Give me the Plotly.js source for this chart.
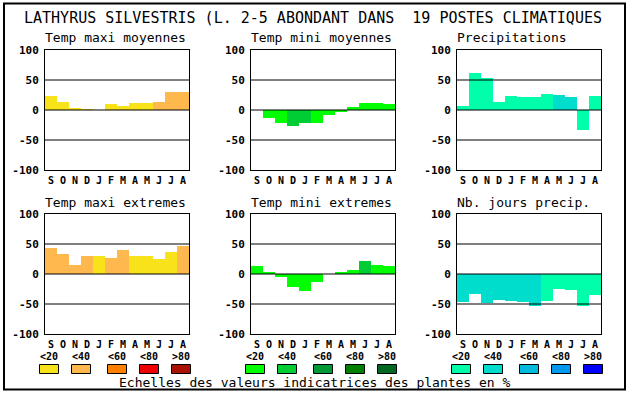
<!DOCTYPE html>
<html><head><meta charset="utf-8">
<script src="https://cdn.plot.ly/plotly-3.0.1.min.js"></script>
<style>html,body{margin:0;padding:0;background:#fff}</style>
</head><body><div id="chart" style="width:630px;height:394px"></div>
<script>
// ---- data ----
const mainTitle = 'LATHYRUS SILVESTRIS (L. 2-5 ABONDANT DANS  19 POSTES CLIMATIQUES';
const months = ['S','O','N','D','J','F','M','A','M','J','J','A'];
const panelTitles = ['Temp maxi moyennes','Temp mini moyennes','Precipitations',
                     'Temp maxi extremes','Temp mini extremes','Nb. jours precip.'];
const yTickVals = [-100,-50,0,50,100];
const yTickText = ['-100','-50','0','50','100'];
const classLabels = ['&lt;20','&lt;40','&lt;60','&lt;80','&gt;80'];
const footer = 'Echelles des valeurs indicatrices des plantes en %';

const tmaxMoy      = [23,13,3,1,0,10,7,12,12,13,30,30];
const tmaxMoyClass = [0,0,0,0,0,0,0,0,0,1,1,1];
const tminMoy      = [0,-13,-21,-26,-21,-21,-8,-4,5,12,12,10];
const tminMoyClass = [0,0,0,1,1,0,0,0,0,0,0,0];
const precip       = [7,62,53,13,23,22,22,27,25,22,-33,23];
const precipClass  = [0,0,0,0,0,0,0,0,1,1,0,0];
const tmaxExt      = [43,33,15,30,30,27,40,30,30,25,37,47];
const tmaxExtClass = [1,1,1,1,0,1,1,0,0,0,0,1];
const tminExt      = [13,3,-5,-22,-28,-13,0,3,7,22,15,13];
const tminExtClass = [0,0,0,0,0,0,0,0,0,1,0,0];
const nbJours      = [-47,-33,-48,-43,-45,-47,-53,-45,-25,-27,-53,-35];
const nbJoursClass = [1,1,1,1,1,1,1,0,0,0,0,0];

// ---- styles ----
const warm  = ['#F8E31B','#FFB84E','#FF7F00','#EE0000','#AA1100'];
const green = ['#00FF00','#00CC33','#009933','#007F00','#006622'];
const blue  = ['#00FFAA','#00DDCC','#00BBDD','#0099EE','#0000FF'];
const W = 630, H = 394;
const MONO = 'DejaVu Sans Mono, monospace';

const panels = [
  {v: tmaxMoy, c: tmaxMoyClass, pal: warm},
  {v: tminMoy, c: tminMoyClass, pal: green},
  {v: precip,  c: precipClass,  pal: blue},
  {v: tmaxExt, c: tmaxExtClass, pal: warm},
  {v: tminExt, c: tminExtClass, pal: green},
  {v: nbJours, c: nbJoursClass, pal: blue}
];
const colL = [45, 251, 457], colW = 144;
const rowT = [50, 214], rowH = 120;

const px = x => x / W;
const py = y => 1 - y / H;

const traces = [];
const layout = {
  width: W, height: H,
  margin: {l:0, r:0, t:0, b:0},
  paper_bgcolor: '#fff', plot_bgcolor: '#fff',
  showlegend: false, bargap: 0,
  font: {family: MONO, color: '#000'},
  shapes: [], annotations: []
};

panels.forEach((p, i) => {
  const col = i % 3, row = Math.floor(i / 3);
  const n = i === 0 ? '' : String(i + 1);
  const xs = months.map((_, k) => k);
  traces.push({
    type: 'bar', x: xs, y: p.v,
    xaxis: 'x' + n, yaxis: 'y' + n,
    width: 1,
    marker: {color: p.c.map(k => p.pal[k]), line: {width: 0}},
    hoverinfo: 'none'
  });
  const l = colL[col], t = rowT[row];
  layout['xaxis' + n] = {
    domain: [px(l), px(l + colW)], anchor: 'y' + n,
    range: [-0.5, 11.5], tickvals: xs, ticktext: months,
    showgrid: false, zeroline: false, ticks: '',
    showline: true, mirror: true, linecolor: '#000', linewidth: 1,
    tickfont: {family: MONO, size: 10, weight: 'bold', color: '#000'},
    ticklabelstandoff: 1,
    fixedrange: true
  };
  layout['yaxis' + n] = {
    domain: [py(t + rowH), py(t)], anchor: 'x' + n,
    range: [-100, 100], tickvals: yTickVals, ticktext: yTickText,
    showgrid: false, zeroline: false, ticks: '',
    showline: true, mirror: true, linecolor: '#000', linewidth: 1,
    tickfont: {family: MONO, size: 11, weight: 'bold', color: '#000'},
    ticklabelstandoff: 3,
    fixedrange: true
  };
  [-50, 0, 50].forEach(v => layout.shapes.push({
    type: 'line', xref: 'x' + n + ' domain', yref: 'y' + n,
    x0: 0, x1: 1, y0: v, y1: v, layer: 'above',
    line: {color: '#000', width: 1}
  }));
  layout.annotations.push({
    text: panelTitles[i], xref: 'paper', yref: 'paper',
    x: px(l - 1), y: py(t - 12), xanchor: 'left', yanchor: 'middle',
    showarrow: false, borderpad: 0,
    font: {family: MONO, size: 13, color: '#000'}
  });
});

// main title
layout.annotations.push({
  text: mainTitle, xref: 'paper', yref: 'paper',
  x: px(313), y: py(18), xanchor: 'center', yanchor: 'middle',
  showarrow: false, borderpad: 0,
  font: {family: MONO, size: 15, color: '#000'}
});

// legend scales
const groupStart = [39, 245, 451];
const boxOff = [0, 32, 68, 100, 132];
const pals = [warm, green, blue];
groupStart.forEach((g, gi) => {
  boxOff.forEach((o, k) => {
    const x0 = g + o;
    layout.shapes.push({
      type: 'rect', xref: 'paper', yref: 'paper',
      x0: px(x0 + 0.5), x1: px(x0 + 19.5), y0: py(364.5), y1: py(373.5),
      fillcolor: pals[gi][k], line: {color: '#000', width: 1}
    });
    layout.annotations.push({
      text: classLabels[k], xref: 'paper', yref: 'paper',
      x: px(x0 + 10), y: py(356), xanchor: 'center', yanchor: 'middle',
      showarrow: false, borderpad: 0,
      font: {family: MONO, size: 10, weight: 'bold', color: '#000'}
    });
  });
});

layout.annotations.push({
  text: footer, xref: 'paper', yref: 'paper',
  x: px(314.5), y: py(382), xanchor: 'center', yanchor: 'middle',
  showarrow: false, borderpad: 0,
  font: {family: MONO, size: 13, color: '#000'}
});

// outer frame
layout.shapes.push({
  type: 'rect', xref: 'paper', yref: 'paper',
  x0: px(4), x1: px(625), y0: py(389.5), y1: py(3.5),
  line: {color: '#000', width: 2}, fillcolor: 'rgba(0,0,0,0)'
});

Plotly.newPlot('chart', traces, layout, {displayModeBar: false, staticPlot: true});
</script></body></html>
